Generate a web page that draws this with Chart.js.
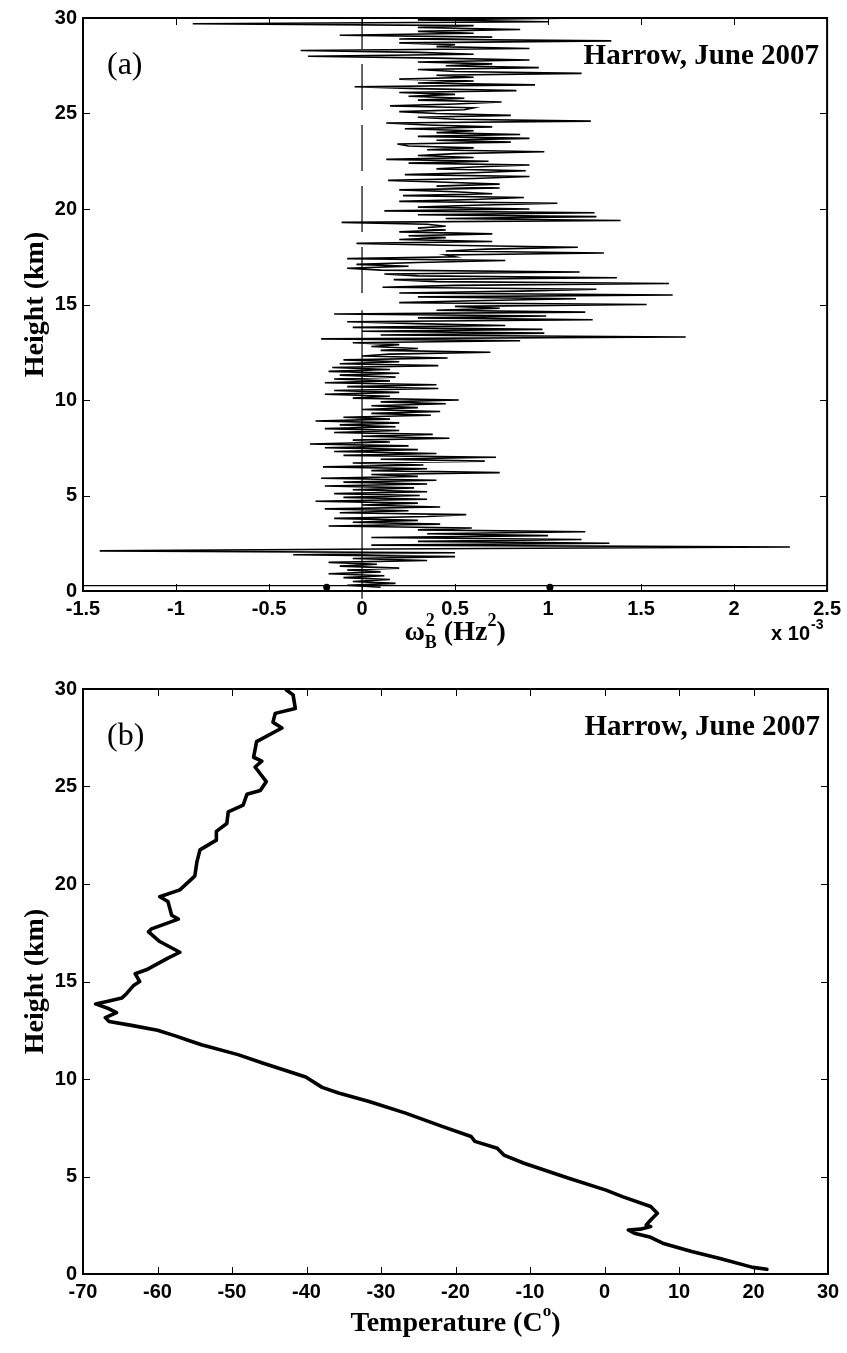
<!DOCTYPE html>
<html>
<head>
<meta charset="utf-8">
<script src="https://cdn.jsdelivr.net/npm/chart.js@4"></script>
<style>
  body { margin: 0; background: #fff; }
  #wrap { position: relative; width: 847px; height: 1353px; }
  canvas { position: absolute; left: 0; }
</style>
</head>
<body>
<div id="wrap">
  <canvas id="chartA" width="847" height="660" style="top:0"></canvas>
  <canvas id="chartB" width="847" height="693" style="top:660px"></canvas>
</div>
<script>
// (a) Brunt-Vaisala frequency squared, units of 1e-3 Hz^2, vs height (km)
const omegaHeights = [
  0.2, 0.3, 0.4, 0.5, 0.6, 0.7, 0.8, 0.9, 1.0, 1.1, 1.2, 1.3, 1.4, 1.5, 1.6, 1.7, 1.8, 1.9,
  2.0, 2.1, 2.2, 2.3, 2.4, 2.5, 2.6, 2.7, 2.8, 2.9, 3.0, 3.1, 3.2, 3.3, 3.4, 3.5, 3.6, 3.7, 3.8, 3.9,
  4.0, 4.1, 4.2, 4.3, 4.4, 4.5, 4.6, 4.7, 4.8, 4.9, 5.0, 5.1, 5.2, 5.3, 5.4, 5.5, 5.6, 5.7, 5.8, 5.9,
  6.0, 6.1, 6.2, 6.3, 6.4, 6.5, 6.6, 6.7, 6.8, 6.9, 7.0, 7.1, 7.2, 7.3, 7.4, 7.5, 7.6, 7.7, 7.8, 7.9,
  8.0, 8.1, 8.2, 8.3, 8.4, 8.5, 8.6, 8.7, 8.8, 8.9, 9.0, 9.1, 9.2, 9.3, 9.4, 9.5, 9.6, 9.7, 9.8, 9.9,
  10.0, 10.1, 10.2, 10.3, 10.4, 10.5, 10.6, 10.7, 10.8, 10.9, 11.0, 11.1, 11.2, 11.3, 11.4, 11.5, 11.6, 11.7, 11.8, 11.9,
  12.0, 12.1, 12.2, 12.3, 12.4, 12.5, 12.6, 12.7, 12.8, 12.9, 13.0, 13.1, 13.2, 13.3, 13.4, 13.5, 13.6, 13.7, 13.8, 13.9,
  14.0, 14.1, 14.2, 14.3, 14.4, 14.5, 14.6, 14.7, 14.8, 14.9, 15.0, 15.1, 15.2, 15.3, 15.4, 15.5, 15.6, 15.7, 15.8, 15.9,
  16.0, 16.1, 16.2, 16.3, 16.4, 16.5, 16.6, 16.7, 16.8, 16.9, 17.0, 17.1, 17.2, 17.3, 17.4, 17.5, 17.6, 17.7, 17.8, 17.9,
  18.0, 18.1, 18.2, 18.3, 18.4, 18.5, 18.6, 18.7, 18.8, 18.9, 19.0, 19.1, 19.2, 19.3, 19.4, 19.5, 19.6, 19.7, 19.8, 19.9,
  20.0, 20.1, 20.2, 20.3, 20.4, 20.5, 20.6, 20.7, 20.8, 20.9, 21.0, 21.1, 21.2, 21.3, 21.4, 21.5, 21.6, 21.7, 21.8, 21.9,
  22.0, 22.1, 22.2, 22.3, 22.4, 22.5, 22.6, 22.7, 22.8, 22.9, 23.0, 23.1, 23.2, 23.3, 23.4, 23.5, 23.6, 23.7, 23.8, 23.9,
  24.0, 24.1, 24.2, 24.3, 24.4, 24.5, 24.6, 24.7, 24.8, 24.9, 25.0, 25.1, 25.2, 25.3, 25.4, 25.5, 25.6, 25.7, 25.8, 25.9,
  26.0, 26.1, 26.2, 26.3, 26.4, 26.5, 26.6, 26.7, 26.8, 26.9, 27.0, 27.1, 27.2, 27.3, 27.4, 27.5, 27.6, 27.7, 27.8, 27.9,
  28.0, 28.1, 28.2, 28.3, 28.4, 28.5, 28.6, 28.7, 28.8, 28.9, 29.0, 29.1, 29.2, 29.3, 29.4, 29.5, 29.6, 29.7, 29.8, 29.9,
  30.0
];
const omegaValues = [
  0.1, -0.08, 0.18, -0.05, 0.15, -0.1, 0.12, -0.18, 0.1, -0.08, 0.2, -0.12, 0.08, -0.18, 0.35, -0.05, 0.5, -0.37,
  0.5, -1.41, 0.1, 2.3, 0.05, 1.33, 0.3, 1.18, 0.05, 1.0, 0.35, 1.2, 0.3, 0.59, -0.18, 0.42, -0.05, 0.3, -0.15, 0.35,
  0.56, -0.12, 0.25, -0.2, 0.42, 0.0, 0.3, -0.25, 0.35, -0.1, 0.31, -0.15, 0.35, -0.05, 0.28, -0.2, 0.35, -0.1, 0.4, -0.22,
  0.3, 0.05, 0.74, 0.05, 0.35, -0.21, 0.33, -0.05, 0.66, 0.1, 0.72, -0.1, 0.4, -0.15, 0.3, -0.2, 0.25, -0.28, 0.15, -0.05,
  0.47, 0.0, 0.38, -0.15, 0.2, -0.2, 0.18, -0.12, 0.2, -0.25, 0.15, -0.1, 0.37, 0.05, 0.42, 0.0, 0.3, 0.05, 0.45, 0.1,
  0.52, -0.05, 0.15, -0.2, 0.2, -0.15, 0.41, -0.08, 0.4, -0.2, 0.15, -0.15, 0.18, -0.12, 0.2, -0.18, 0.15, -0.16, 0.41, -0.12,
  0.2, -0.1, 0.46, 0.0, 0.15, 0.69, 0.1, 0.3, 0.05, 0.2, -0.05, 0.85, -0.22, 1.74, 0.1, 0.98, 0.0, 0.97, -0.05, 0.77,
  0.29, -0.08, 1.24, 0.3, 0.99, -0.15, 1.2, 0.4, 0.74, 0.5, 1.53, 0.2, 0.6, 1.15, 0.3, 1.67, 0.2, 0.85, 1.26, 0.11,
  0.5, 1.65, 0.4, 0.17, 1.37, 0.3, 0.12, 1.17, 0.1, -0.08, 0.25, -0.03, 0.3, 0.77, -0.08, 0.5, 0.45, 1.3, 0.45, 0.67,
  1.16, 0.45, -0.03, 0.7, 0.2, 0.45, 0.25, 0.7, 0.2, 0.45, 0.3, 0.45, 0.35, -0.11, 1.39, 0.45, 1.26, 0.3, 1.25, 0.12,
  0.9, 0.3, 0.6, 1.05, 0.2, 0.6, 0.87, 0.22, 0.7, 0.5, 0.2, 0.74, 0.4, 0.74, 0.45, 0.14, 0.6, 0.9, 0.23, 0.6,
  0.88, 0.4, 0.6, 0.9, 0.25, 0.68, 0.13, 0.6, 0.3, 0.5, 0.98, 0.35, 0.6, 0.25, 0.19, 0.8, 0.4, 0.9, 0.3, 0.85,
  0.4, 0.6, 0.23, 0.7, 0.35, 0.13, 1.23, 0.5, 0.3, 0.8, 0.4, 0.2, 0.55, 0.6, 0.15, 0.5, 0.75, 0.3, 0.55, 0.25,
  0.5, 0.2, 0.83, 0.3, -0.04, 0.93, 0.3, 0.6, 0.2, 0.6, 0.4, 1.18, 0.5, 0.3, 0.95, 0.45, 0.7, 0.3, 0.9, 0.4,
  -0.29, 0.6, 0.3, -0.33, 0.9, 0.4, 0.5, 0.2, 1.34, 0.2, 0.7, -0.12, 0.6, 0.3, 0.85, 0.3, 0.6, -0.91, 1.0, 0.3,
  1.2
];
// near-surface trace and the two marked surface points
const surfaceValues = [-1.5, 2.5];
const surfaceHeights = [0.28, 0.28];
const markValues = [-0.19, 1.01];
const markHeights = [0.2, 0.2];
// zero reference: dashed aloft, solid below
const zeroDashValues = [0, 0];
const zeroDashHeights = [30, 15.52];
const zeroSolidValues = [0, 0];
const zeroSolidHeights = [14.7, -0.4];

// (b) temperature profile
const tempHeights = [
  0.24, 0.34, 0.8, 1.15, 1.58, 1.88, 2.09, 2.26, 2.3, 2.43, 2.52, 2.77, 3.12, 3.46, 3.97, 4.3, 4.91,
  5.68, 6.1, 6.45, 6.8, 7.05, 7.57, 8.25, 8.85, 9.28, 9.57, 10.1, 10.82, 11.25, 11.76, 12.0, 12.2,
  12.5, 12.75, 12.95, 13.15, 13.4, 13.6, 13.85, 14.0, 14.15, 14.4, 14.8, 15.0, 15.4, 15.6, 16.2, 16.5, 17.05,
  17.55, 17.7, 18.2, 18.4, 19.1, 19.35, 19.7, 20.4, 21.15, 21.75, 22.25, 22.7, 23.1, 23.7, 24.05,
  24.6, 24.8, 25.25, 26.0, 26.3, 26.5, 27.3, 28.0, 28.3, 28.75, 29.0, 29.7, 29.95
];
const tempValues = [
  21.8, 19.9, 15.5, 11.7, 7.8, 6.2, 4.0, 3.2, 4.8, 6.2, 5.6, 6.2, 7.1, 6.2, 2.4, 0.2, -4.8,
  -10.8, -13.5, -14.4, -17.4, -17.9, -21.8, -26.7, -31.6, -35.7, -37.9, -40.1, -45.9, -49.2, -54.1, -56, -57.5,
  -60, -63.5, -66.5, -67, -65.5, -66.5, -68.3, -66.5, -64.8, -64.1, -63.2, -62.4, -63.0, -61.5, -58.6, -57.0, -59.7,
  -61.2, -60.8, -57.2, -58.1, -58.6, -59.7, -57.0, -55.0, -54.7, -54.3, -52.1, -52.1, -50.7, -50.5, -48.5,
  -48.0, -46.2, -45.4, -46.9, -46.0, -47.1, -46.7, -43.3, -44.5, -44.2, -41.5, -41.8, -42.7
];

const xTicksA = [-1.5, -1, -0.5, 0, 0.5, 1, 1.5, 2, 2.5];
const xTicksB = [-70, -60, -50, -40, -30, -20, -10, 0, 10, 20, 30];
const heightTicks = [0, 5, 10, 15, 20, 25, 30];

const pts = (xs, ys) => xs.map((v, i) => ({ x: v, y: ys[i] }));
const tickFont = { family: "'Liberation Sans', Arial, sans-serif", size: 20, weight: 'bold' };
const serif = "'Liberation Serif', 'Times New Roman', serif";

// box + inward ticks on all sides, then the labels
function frame(labels) {
  return {
    id: 'frame',
    afterDraw(chart) {
      const { ctx, chartArea: a, scales: { x, y } } = chart;
      ctx.save();
      ctx.strokeStyle = '#000';
      ctx.lineWidth = 1;
      ctx.beginPath();
      x.ticks.forEach(t => {
        const px = Math.round(x.getPixelForValue(t.value)) + 0.5;
        ctx.moveTo(px, a.bottom); ctx.lineTo(px, a.bottom - 7);
        ctx.moveTo(px, a.top); ctx.lineTo(px, a.top + 7);
      });
      y.ticks.forEach(t => {
        const py = Math.round(y.getPixelForValue(t.value)) + 0.5;
        ctx.moveTo(a.left, py); ctx.lineTo(a.left + 7, py);
        ctx.moveTo(a.right, py); ctx.lineTo(a.right - 7, py);
      });
      ctx.stroke();
      ctx.lineWidth = 2;
      ctx.strokeRect(a.left, a.top, a.right - a.left, a.bottom - a.top);
      ctx.fillStyle = '#000';
      labels(ctx, a);
      ctx.restore();
    }
  };
}

function heightTitle(ctx, a) {
  ctx.save();
  ctx.translate(43, (a.top + a.bottom) / 2);
  ctx.rotate(-Math.PI / 2);
  ctx.font = `bold 28px ${serif}`;
  ctx.textAlign = 'center';
  ctx.textBaseline = 'alphabetic';
  ctx.fillText('Height (km)', 0, 0);
  ctx.restore();
}

function panelText(ctx, a, tag) {
  ctx.textBaseline = 'alphabetic';
  ctx.textAlign = 'left';
  ctx.font = `32px ${serif}`;
  ctx.fillText(tag, a.left + 24, a.top + 56);
  ctx.textAlign = 'right';
  ctx.font = `bold 29px ${serif}`;
  ctx.fillText('Harrow, June 2007', a.right - 8, a.top + 46);
  heightTitle(ctx, a);
}

function scaleOpts(min, max, step, ticks, fit) {
  return {
    type: 'linear', min, max,
    afterBuildTicks: s => { s.ticks = ticks.map(v => ({ value: v })); },
    afterFit: fit,
    grid: { display: false, drawTicks: false },
    border: { display: false },
    ticks: { stepSize: step, font: tickFont, color: '#000', padding: 6, maxRotation: 0,
             callback: v => String(+v.toFixed(2)) }
  };
}

new Chart(document.getElementById('chartA'), {
  type: 'scatter',
  data: {
    datasets: [
      { data: pts(omegaValues, omegaHeights), showLine: true, borderColor: '#000', borderWidth: 1.6,
        pointRadius: 0, tension: 0 },
      { data: pts(surfaceValues, surfaceHeights), showLine: true, borderColor: '#000', borderWidth: 1.2,
        pointRadius: 0 },
      { data: pts(zeroDashValues, zeroDashHeights), showLine: true, borderColor: '#000', borderWidth: 1.2,
        pointRadius: 0, borderDash: [46, 15], borderDashOffset: 15 },
      { data: pts(zeroSolidValues, zeroSolidHeights), showLine: true, borderColor: '#000', borderWidth: 1.2,
        pointRadius: 0, clip: { left: 0, top: 0, right: 0, bottom: 10 } },
      { data: pts(markValues, markHeights), showLine: false, pointRadius: 3.5,
        pointBackgroundColor: '#000', pointBorderWidth: 0 }
    ]
  },
  options: {
    responsive: false, animation: false,
    layout: { padding: { top: 16, right: 19, left: 0, bottom: 0 } },
    plugins: { legend: { display: false }, tooltip: { enabled: false } },
    scales: {
      x: scaleOpts(-1.5, 2.5, 0.5, xTicksA, s => { s.height = 69; }),
      y: scaleOpts(0, 30, 5, heightTicks, s => { s.width = 83; })
    }
  },
  plugins: [frame((ctx, a) => {
    panelText(ctx, a, '(a)');
    // omega_B^2 (Hz^2)
    const big = `bold 28px ${serif}`, small = `bold 18px ${serif}`;
    ctx.textAlign = 'left';
    ctx.font = big;
    const wW = ctx.measureText('\u03c9').width;
    const wP = ctx.measureText(' (Hz').width;
    const wC = ctx.measureText(')').width;
    ctx.font = small;
    const wB = ctx.measureText('B').width;
    const w2 = ctx.measureText('2').width;
    const total = wW + wB + wP + w2 + wC;
    let cx = (a.left + a.right) / 2 - total / 2;
    const base = a.bottom + 49;
    ctx.font = big; ctx.fillText('\u03c9', cx, base); cx += wW;
    ctx.font = small; ctx.fillText('B', cx, base + 8); ctx.fillText('2', cx + 1, base - 14); cx += wB;
    ctx.font = big; ctx.fillText(' (Hz', cx, base); cx += wP;
    ctx.font = small; ctx.fillText('2', cx, base - 14); cx += w2;
    ctx.font = big; ctx.fillText(')', cx, base);
    // x 10^-3
    ctx.font = `bold 20px 'Liberation Sans', Arial, sans-serif`;
    ctx.fillText('x 10', a.right - 56, a.bottom + 49);
    const wx = ctx.measureText('x 10').width;
    ctx.font = `bold 14px 'Liberation Sans', Arial, sans-serif`;
    ctx.fillText('-3', a.right - 56 + wx + 1, a.bottom + 38);
  })]
});

new Chart(document.getElementById('chartB'), {
  type: 'scatter',
  data: {
    datasets: [
      { data: pts(tempValues, tempHeights), showLine: true, borderColor: '#000', borderWidth: 3.6,
        borderJoinStyle: 'round', borderCapStyle: 'round', pointRadius: 0, tension: 0 }
    ]
  },
  options: {
    responsive: false, animation: false,
    layout: { padding: { top: 29, right: 19, left: 0, bottom: 0 } },
    plugins: { legend: { display: false }, tooltip: { enabled: false } },
    scales: {
      x: scaleOpts(-70, 30, 10, xTicksB, s => { s.height = 79; }),
      y: scaleOpts(0, 30, 5, heightTicks, s => { s.width = 83; })
    }
  },
  plugins: [frame((ctx, a) => {
    panelText(ctx, a, '(b)');
    const big = `bold 28px ${serif}`, small = `bold 17px ${serif}`;
    ctx.textAlign = 'left';
    ctx.font = big;
    const w1 = ctx.measureText('Temperature (C').width;
    const wC = ctx.measureText(')').width;
    ctx.font = small;
    const wo = ctx.measureText('o').width;
    let cx = (a.left + a.right) / 2 - (w1 + wo + wC) / 2;
    const base = a.bottom + 57;
    ctx.font = big; ctx.fillText('Temperature (C', cx, base); cx += w1;
    ctx.font = small; ctx.fillText('o', cx, base - 15); cx += wo;
    ctx.font = big; ctx.fillText(')', cx, base);
  })]
});
</script>
</body>
</html>
